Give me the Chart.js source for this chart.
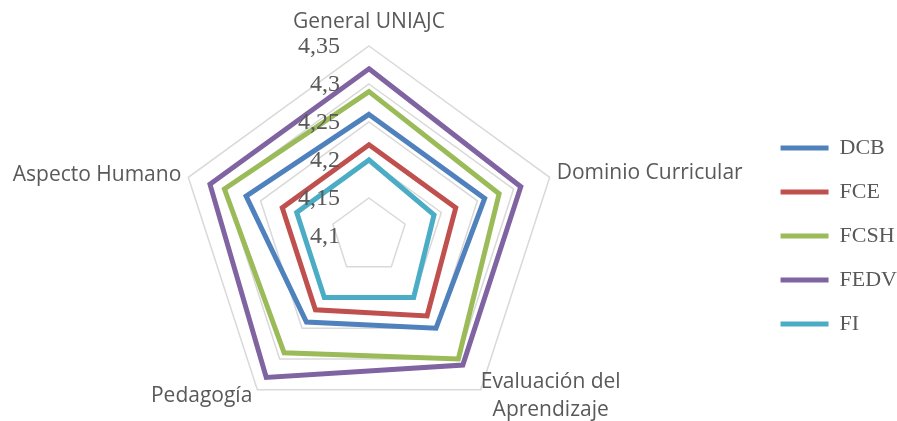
<!DOCTYPE html>
<html>
<head>
<meta charset="utf-8">
<script src="https://cdn.jsdelivr.net/npm/chart.js@4.4.1/dist/chart.umd.min.js"></script>
<style>
  html, body { margin: 0; padding: 0; background: #fff; }
  #wrap { width: 897px; height: 421px; }
</style>
</head>
<body>
<div id="wrap"><canvas id="radarChart" width="897" height="421"></canvas></div>
<script>
// Values
const categories = ['General UNIAJC', 'Dominio Curricular', ['Evaluación del', 'Aprendizaje'], 'Pedagogía', 'Aspecto Humano'];
const seriesNames = ['DCB', 'FCE', 'FCSH', 'FEDV', 'FI'];
const dcb  = [4.26, 4.26, 4.25, 4.24, 4.27];
const fce  = [4.22, 4.22, 4.23, 4.22, 4.22];
const fcsh = [4.29, 4.28, 4.30, 4.29, 4.30];
const fedv = [4.32, 4.31, 4.31, 4.33, 4.32];
const fi   = [4.20, 4.19, 4.20, 4.20, 4.20];
const tickValues = [4.1, 4.15, 4.2, 4.25, 4.3, 4.35];

const seriesColors = ['#4F81BD', '#C0504D', '#9BBB59', '#8064A2', '#4BACC6'];
const textColor = '#595959';

// where the radar sits and how its labels hang off the vertices
const radarBox = { x: 369, y: 236, radius: 190 };
const labelPlacement = [
  { align: 'center', dx: 0,  dy: -24 },
  { align: 'left',   dx: 7,  dy: -4 },
  { align: 'center', dx: 70, dy: -8 },
  { align: 'right',  dx: -5, dy: 6 },
  { align: 'right',  dx: -7, dy: -2 }
];

function formatTick(v) {
  return String(Math.round(v * 100) / 100).replace('.', ',');
}

const radarLayout = {
  id: 'radarLayout',
  afterLayout(chart) {
    const s = chart.scales.r;
    s.xCenter = radarBox.x;
    s.yCenter = radarBox.y;
    s.drawingArea = radarBox.radius;
  },
  afterDatasetsDraw(chart) {
    const s = chart.scales.r;
    const ctx = chart.ctx;
    ctx.save();

    // tick labels, left of the vertical axis
    ctx.fillStyle = textColor;
    ctx.font = '24px "Liberation Serif"';
    ctx.textAlign = 'right';
    ctx.textBaseline = 'middle';
    s.ticks.forEach(t => {
      const d = s.getDistanceFromCenterForValue(t.value);
      ctx.fillText(formatTick(t.value), s.xCenter - 29, s.yCenter - d + 1);
    });

    // category labels
    ctx.font = '21px "Open Sans"';
    categories.forEach((label, i) => {
      const p = s.getPointPosition(i, s.drawingArea);
      const place = labelPlacement[i];
      const lines = Array.isArray(label) ? label : [label];
      ctx.textAlign = place.align;
      lines.forEach((line, k) => {
        ctx.fillText(line, p.x + place.dx, p.y + place.dy + k * 28);
      });
    });
    ctx.restore();
  }
};

const allSeries = [dcb, fce, fcsh, fedv, fi];

new Chart(document.getElementById('radarChart').getContext('2d'), {
  type: 'radar',
  data: {
    labels: categories,
    datasets: allSeries.map((values, i) => ({
      label: seriesNames[i],
      data: values,
      borderColor: seriesColors[i],
      backgroundColor: seriesColors[i],
      borderWidth: 5,
      borderJoinStyle: 'miter',
      borderCapStyle: 'round',
      pointRadius: 0,
      pointHoverRadius: 0,
      fill: false,
      tension: 0
    }))
  },
  options: {
    responsive: false,
    animation: false,
    devicePixelRatio: 1,
    layout: { padding: { top: 51, right: -10, bottom: 0, left: 0 } },
    plugins: {
      legend: {
        position: 'right',
        labels: {
          usePointStyle: true,
          pointStyle: 'line',
          pointStyleWidth: 48,
          padding: 22,
          color: textColor,
          font: { family: 'Liberation Serif', size: 22 }
        }
      },
      tooltip: { enabled: false }
    },
    scales: {
      r: {
        min: 4.1,
        max: 4.35,
        afterBuildTicks: scale => {
          scale.ticks = tickValues.map(v => ({ value: v }));
        },
        ticks: { display: false, stepSize: 0.05 },
        grid: { color: '#d9d9d9', lineWidth: 1.5 },
        angleLines: { display: false },
        pointLabels: { display: false }
      }
    }
  },
  plugins: [radarLayout]
});
</script>
</body>
</html>
